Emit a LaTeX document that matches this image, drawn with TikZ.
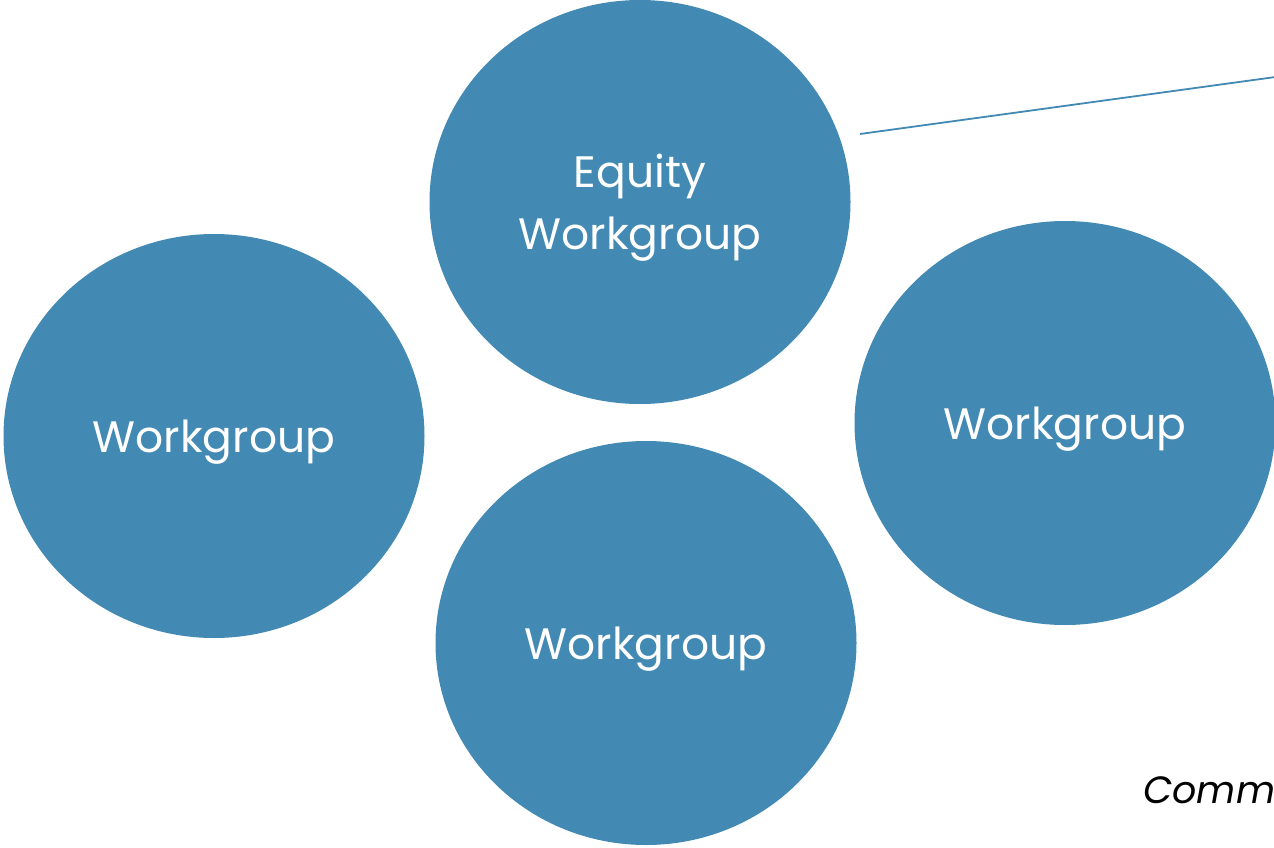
\documentclass[tikz,border=0pt]{standalone}
\usepackage{fontspec}
\setmainfont{Poppins}
\usetikzlibrary{shapes.geometric}
\definecolor{groupblue}{HTML}{4289B3}

\begin{document}
\begin{tikzpicture}[x=1pt,y=-1pt,
    group/.style={ellipse, fill=groupblue, minimum width=421pt, minimum height=404pt,
      inner sep=0pt, text=white, align=center, text depth=0pt,
      font=\fontsize{44}{62}\selectfont},
    link/.style={draw=groupblue, line width=1.8pt}]
      \useasboundingbox (0,0) rectangle (1274,848);
      \clip (0,0) rectangle (1274,848);
      \node [group] (equity) at (640,202) {Equity\\Workgroup};
      \node [group] (left) at (214,436) {Workgroup};
      \node [group] (bottom) at (646,643) {Workgroup};
      \node [group] (right) at (1065,423) {Workgroup};
      \coordinate (linkstart) at (860,134);
      \coordinate (linkend) at (1290,75);
      \draw [link] (linkstart) -- (linkend);
      \node [anchor=base west, inner sep=0pt, font=\fontsize{38}{46}\selectfont\itshape] (comm) at (1143,803) {Comm};
    \end{tikzpicture}
\end{document}
